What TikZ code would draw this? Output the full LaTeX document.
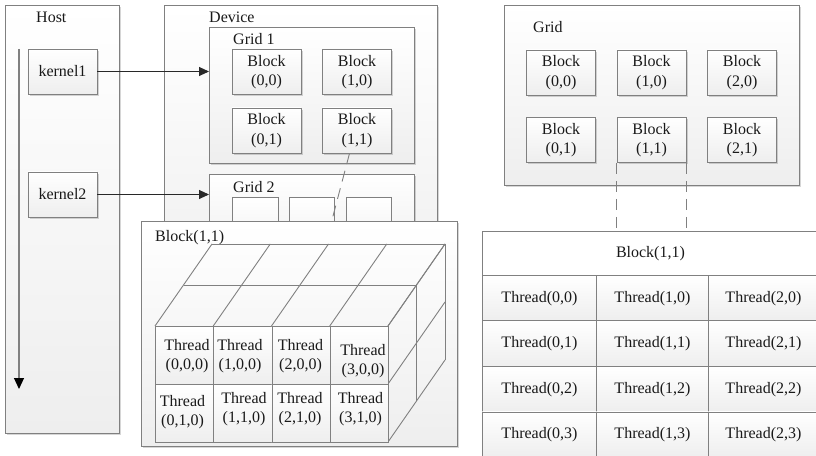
\documentclass[tikz,border=0pt]{standalone}
\usepackage{fontspec}
\setmainfont{Liberation Serif}
\usetikzlibrary{arrows.meta,shadows,calc}

\definecolor{edgegray}{RGB}{128,128,128}
\definecolor{panelbot}{RGB}{238,238,238}
\definecolor{inkcol}{RGB}{25,25,25}
\definecolor{arrowcol}{RGB}{40,40,40}

\tikzset{
  x=1bp, y=-1bp,
  plainbox/.style={draw=edgegray, line width=0.9bp, top color=white, bottom color=panelbot, inner sep=0pt},
  shadebox/.style={plainbox, drop shadow={shadow xshift=1.6bp, shadow yshift=-1.6bp, opacity=0.16, fill=black}},
  panel/.style={shadebox, anchor=north west},
  txt/.style={font=\fontsize{16bp}{19.5bp}\selectfont, text=inkcol},
  lbl/.style={txt, inner sep=0pt, anchor=west},
  blockbox/.style={shadebox, txt, align=center, minimum width=69bp, minimum height=45bp},
  emptybox/.style={plainbox, anchor=north west, minimum width=45.5bp, minimum height=60bp},
  cellbox/.style={plainbox, txt, anchor=north west, minimum height=45.5bp},
  cubecell/.style={plainbox, anchor=north west, minimum width=58.25bp, minimum height=58bp},
  threadtxt/.style={font=\fontsize{16bp}{18.5bp}\selectfont, text=inkcol, align=center, inner sep=0pt},
  flow/.style={draw=arrowcol, line width=0.9bp, -{Triangle[length=10bp,width=9bp]}},
  timeline/.style={draw=edgegray, line width=1.2bp, -{Triangle[length=11bp,width=10bp,color=black]}},
  dashline/.style={draw=edgegray, line width=0.9bp, dash pattern=on 11bp off 7bp},
  cubeline/.style={draw=edgegray, line width=0.9bp},
}

\begin{document}
\begin{tikzpicture}
\clip (0,0) rectangle (816,456);
\fill[white] (0,0) rectangle (816,456);

% ---------------- host side ----------------
\node[panel, minimum width=114bp, minimum height=428bp] (host) at (5,5) {};
\node[lbl] (hostlbl) at (36,17) {Host};
\coordinate (tltop) at (19,49);
\coordinate (tlend) at (19,389);
\draw[timeline] (tltop) -- (tlend);
\node[blockbox] (k1) at (62.5,71.5) {kernel1};
\node[blockbox] (k2) at (62.5,194.5) {kernel2};

% ---------------- device ----------------
\node[panel, minimum width=273bp, minimum height=300bp] (dev) at (164,5) {};
\node[lbl] (devlbl) at (209,17) {Device};

\node[panel, minimum width=205bp, minimum height=136bp] (g1) at (209,27) {};
\node[lbl] (g1lbl) at (233,39) {Grid 1};
\node[blockbox] (b00) at (266.5,72) {Block\\(0,0)};
\node[blockbox] (b10) at (357,72) {Block\\(1,0)};
\node[blockbox] (b01) at (266.5,130.5) {Block\\(0,1)};
\node[blockbox] (b11) at (357,130.5) {Block\\(1,1)};

\node[panel, minimum width=205bp, minimum height=80bp] (g2) at (209,174) {};
\node[lbl] (g2lbl) at (233,187) {Grid 2};
\node[emptybox] (g2a) at (232,197) {};
\node[emptybox] (g2b) at (288.5,197) {};
\node[emptybox] (g2c) at (345.5,197) {};

\draw[flow] (k1.east) -- (k1.east -| g1.west);
\draw[flow] (k2.east) -- (k2.east -| g2.west);

\coordinate (cutpt) at (331.7,221);
\draw[dashline] ($(b11.south)+(-7.5,0)$) -- (cutpt);

% ---------------- block (1,1) as a cube of threads ----------------
\node[panel, minimum width=316bp, minimum height=225bp] (bview) at (141,221) {};
\node[lbl] (bviewlbl) at (155,238) {Block(1,1)};

% top face
\foreach \x in {155,213.25,271.5,329.75,388}
  \draw[cubeline] (\x,326) -- ++(57,-82);
\draw[cubeline] (183.5,285) -- ++(233,0);
\draw[cubeline] (212,244) -- ++(233,0);
% right face
\foreach \y in {326,384,442}
  \draw[cubeline] (388,\y) -- ++(57,-82);
\draw[cubeline] (416.5,285) -- ++(0,116);
\draw[cubeline] (445,244) -- ++(0,116);
% front face
\foreach \c/\x in {0/155,1/213.25,2/271.5,3/329.75}
  \foreach \r/\y in {0/326,1/384}
    \node[cubecell] (fc-\c-\r) at (\x,\y) {};

\node[threadtxt] (t000) at (187,356) {Thread\\(0,0,0)};
\node[threadtxt] (t100) at (240,356) {Thread\\(1,0,0)};
\node[threadtxt] (t200) at (300.5,356) {Thread\\(2,0,0)};
\node[threadtxt] (t300) at (363,361) {Thread\\(3,0,0)};
\node[threadtxt] (t010) at (182.5,412) {Thread\\(0,1,0)};
\node[threadtxt] (t110) at (244,409) {Thread\\(1,1,0)};
\node[threadtxt] (t210) at (300,409) {Thread\\(2,1,0)};
\node[threadtxt] (t310) at (360.5,409) {Thread\\(3,1,0)};

% ---------------- right: grid and thread table ----------------
\node[panel, minimum width=295bp, minimum height=180bp] (grid) at (504,5) {};
\node[lbl] (gridlbl) at (533,27) {Grid};
\node[blockbox] (r00) at (561,72.5) {Block\\(0,0)};
\node[blockbox] (r10) at (651.5,72.5) {Block\\(1,0)};
\node[blockbox] (r20) at (742,72.5) {Block\\(2,0)};
\node[blockbox] (r01) at (561,140) {Block\\(0,1)};
\node[blockbox] (r11) at (651.5,140) {Block\\(1,1)};
\node[blockbox] (r21) at (742,140) {Block\\(2,1)};

\node[cellbox, minimum width=336bp, minimum height=44bp, top color=white, bottom color=white] (th) at (482,231) {Block(1,1)};
\draw[dashline] (r11.south west) -- (r11.south west |- th.north);
\draw[dashline] (r11.south east) -- (r11.south east |- th.north);

\foreach \c/\x/\w in {0/482/114,1/596/112,2/708/110}
  \foreach \r in {0,1,2,3}
    \node[cellbox, minimum width=\w bp] (cell-\c-\r) at (\x,275+45.5*\r) {Thread(\c,\r)};
\end{tikzpicture}
\end{document}
